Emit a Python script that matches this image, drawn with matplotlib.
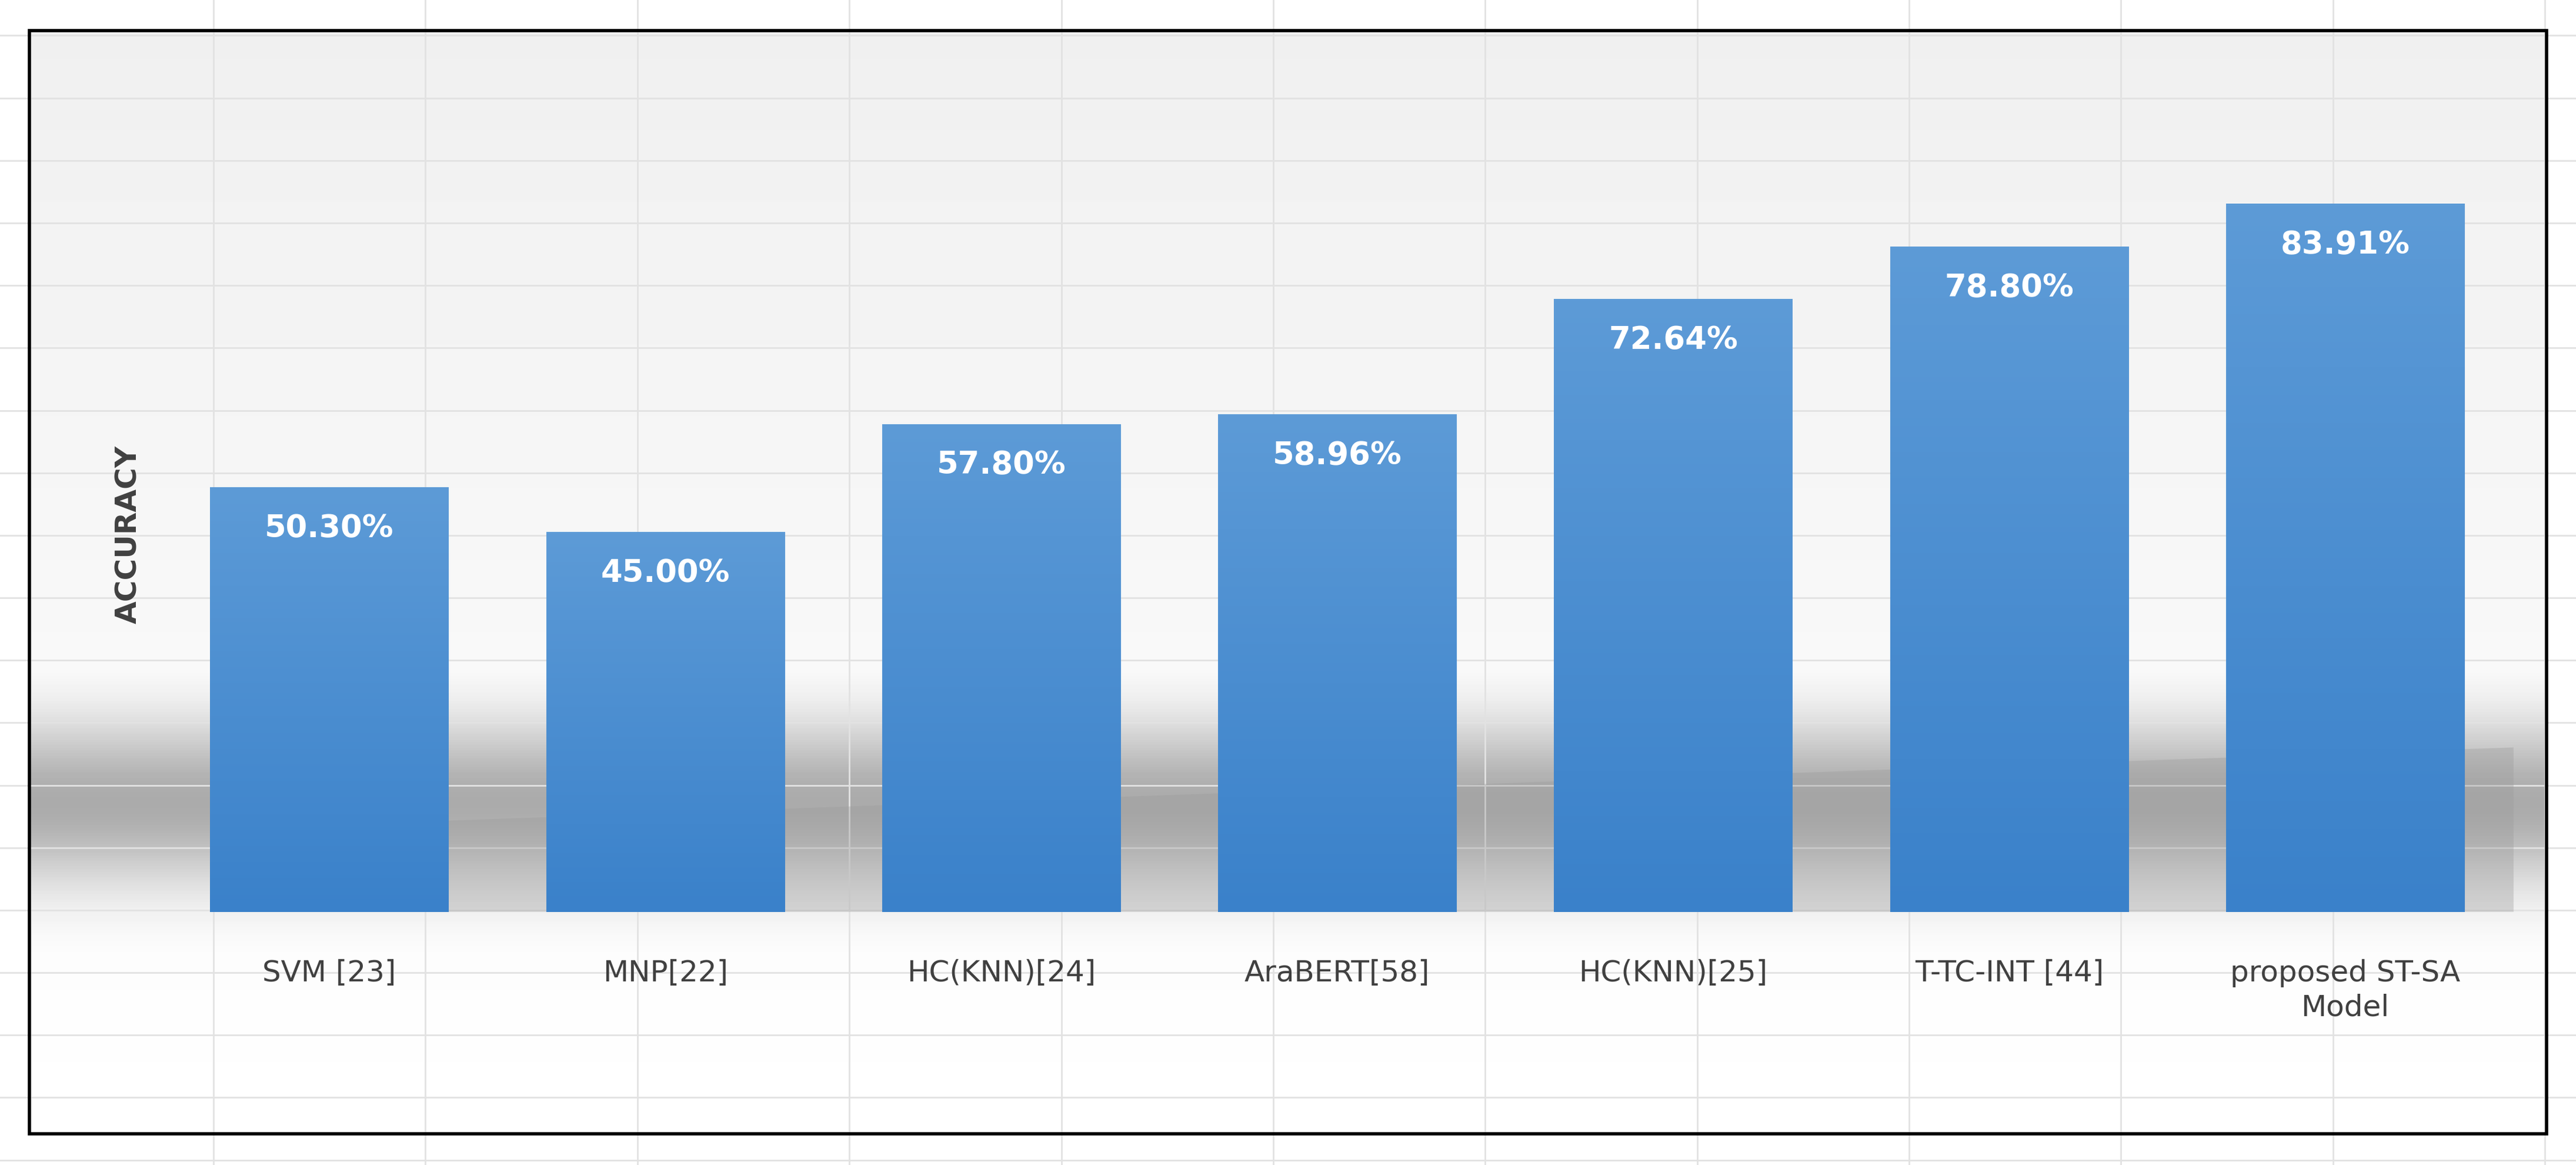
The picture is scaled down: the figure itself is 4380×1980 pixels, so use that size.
import numpy as np
import matplotlib.pyplot as plt
from matplotlib.patches import Rectangle
from matplotlib.colors import LinearSegmentedColormap

categories = ["SVM [23]", "MNP[22]", "HC(KNN)[24]", "AraBERT[58]",
              "HC(KNN)[25]", "T-TC-INT [44]", "proposed ST-SA\nModel"]
accuracy = [50.30, 45.00, 57.80, 58.96, 72.64, 78.80, 83.91]

W, H = 1568, 709  # reference display units
fig = plt.figure(figsize=(43.8, 19.81), dpi=100)

# faint sheet grid behind everything
bg = fig.add_axes([0, 0, 1, 1], zorder=-3)
bg.set_xlim(0, W); bg.set_ylim(H, 0); bg.axis("off")
for x in np.arange(130, W, 129):
    bg.axvline(x, color="#e2e2e2", lw=2)
for y in np.arange(22, H, 38):
    bg.axhline(y, color="#e2e2e2", lw=2)

# panel with gray shadow band
ys = np.linspace(0, 1, 400)
band = 1 - 0.33 * np.exp(-((ys - 0.70) / 0.075) ** 2)
top = 1 - 0.06 * (1 - ys)
shade = np.minimum(band, top)
img = np.repeat(shade[:, None], 10, axis=1)
bg.imshow(img, cmap="gray", vmin=0, vmax=1, extent=[18, 1550, 690, 19],
          aspect="auto", zorder=1)
bg.add_patch(Rectangle((18, 19), 1532, 671, fill=False, ec="black", lw=4, zorder=5))
# skewed shadow behind bars
bg.fill([260, 1530, 1530, 260], [555, 555, 455, 500], color="#9a9a9a", alpha=0.35,
        lw=0, zorder=2)

ax = fig.add_axes([100 / W, (H - 555) / H, 1430 / W, (555 - 93) / H], zorder=1)
ax.patch.set_alpha(0)
x = np.arange(len(categories))
bw = 145 / 204.5
bars = ax.bar(x, accuracy, width=bw, color="none", edgecolor="none")
cmap = LinearSegmentedColormap.from_list("b", ["#3a81ca", "#5d9bd7"])
grad = np.linspace(0, 1, 256)[:, None]
for b, v in zip(bars, accuracy):
    im = ax.imshow(grad, cmap=cmap, origin="lower", aspect="auto",
                   extent=[b.get_x(), b.get_x() + bw, 0, v], zorder=2)
    im.set_clip_path(b)
    ax.text(b.get_x() + bw / 2, v - 3, f"{v:.2f}%", ha="center", va="top",
            color="white", fontsize=38, fontweight="bold", family="DejaVu Sans")
ax.set_xlim(-0.491, 6.501)
ax.set_ylim(0, 90)
ax.axis("off")
for xi, c in zip(x, categories):
    ax.text(xi, -5.5, c, ha="center", va="top", fontsize=36, color="#404040",
            linespacing=1.3)

fig.text(78 / W, 1 - 325 / H, "ACCURACY", rotation=90, ha="center", va="center",
         fontsize=36, fontweight="bold", color="#404040")

fig.savefig("out.png", dpi=100)
